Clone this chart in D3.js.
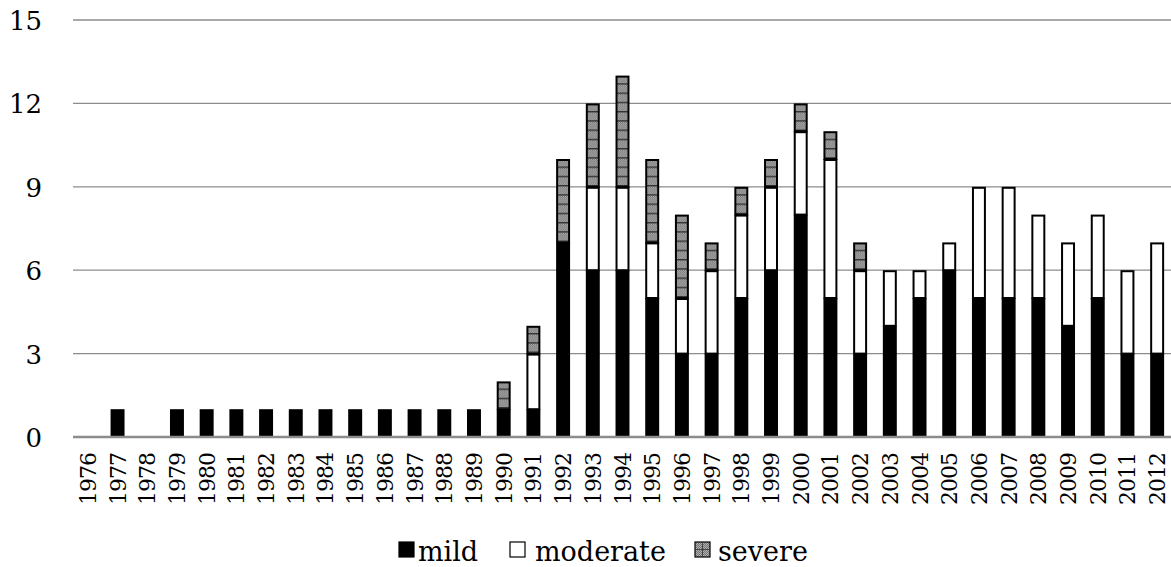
<!DOCTYPE html>
<html>
<head>
<meta charset="utf-8">
<script src="https://cdn.jsdelivr.net/npm/d3@7"></script>
<style>
  body { margin: 0; background: #fff; }
  text { font-family: "DejaVu Serif", "Liberation Serif", serif; }
</style>
</head>
<body>
<div id="viz"></div>
<script>
var width = 1171
var height = 567

// data
var years = ["1976","1977","1978","1979","1980","1981","1982","1983","1984","1985","1986","1987","1988","1989",
  "1990","1991","1992","1993","1994","1995","1996","1997","1998","1999","2000","2001","2002","2003","2004",
  "2005","2006","2007","2008","2009","2010","2011","2012"];
var mild =     [0,1,0,1,1,1,1,1,1,1,1,1,1,1, 1,1,7,6,6,5,3,3,5,6,8,5,3,4,5, 6,5,5,5,4,5,3,3];
var moderate = [0,0,0,0,0,0,0,0,0,0,0,0,0,0, 0,2,0,3,3,2,2,3,3,3,3,5,3,2,1, 1,4,4,3,3,3,3,4];
var severe =   [0,0,0,0,0,0,0,0,0,0,0,0,0,0, 1,1,3,3,4,3,3,1,1,1,1,1,1,0,0, 0,0,0,0,0,0,0,0];
var seriesNames = ["mild", "moderate", "severe"];
var yTicks = [0, 3, 6, 9, 12, 15];

var margin = {left: 73, right: 0, top: 20, bottom: 130};

var svg = d3.select("#viz")
  .append("svg")
  .attr("width", width)
  .attr("height", height);

// stipple pattern for severe
var defs = svg.append("defs");
var pat = defs.append("pattern")
  .attr("id", "sev")
  .attr("patternUnits", "userSpaceOnUse")
  .attr("width", 2)
  .attr("height", 2);
pat.append("rect").attr("width", 2).attr("height", 2).attr("fill", "#b4b4b4");
pat.append("rect").attr("width", 1).attr("height", 1).attr("fill", "#707070");
pat.append("rect").attr("x", 1).attr("y", 1).attr("width", 1).attr("height", 1).attr("fill", "#707070");
var pat2 = defs.append("pattern")
  .attr("id", "sevlines")
  .attr("patternUnits", "userSpaceOnUse")
  .attr("width", 20)
  .attr("height", 9.25);
pat2.append("rect").attr("width", 20).attr("height", 9.25).attr("fill", "url(#sev)");
pat2.append("rect").attr("width", 20).attr("height", 1.4).attr("fill", "#333");

var data = years.map(function(y, i) {
  return {year: y, mild: mild[i], moderate: moderate[i], severe: severe[i]};
});

var x = d3.scaleBand()
  .domain(years)
  .range([margin.left, width - margin.right + 1])
  .paddingInner(0.53)
  .paddingOuter(0.265);

var y = d3.scaleLinear()
  .domain([0, 15])
  .range([437, 20]);

// gridlines
svg.append("g")
  .selectAll("line")
  .data(yTicks.slice(1))
  .enter().append("line")
    .attr("x1", margin.left)
    .attr("x2", width)
    .attr("y1", d => y(d))
    .attr("y2", d => y(d))
    .style("stroke", "#8c8c8c")
    .style("stroke-width", 1.3);

// y labels
svg.append("g")
  .selectAll("text")
  .data(yTicks)
  .enter().append("text")
    .attr("x", 42)
    .attr("y", d => y(d) + 10)
    .attr("text-anchor", "end")
    .style("font-size", "26px")
    .text(d => d);

var stack = d3.stack().keys(seriesNames)(data);
var fills = {mild: "#000", moderate: "#fff", severe: "url(#sevlines)"};

svg.append("g")
  .selectAll("g")
  .data(stack)
  .enter().append("g")
    .attr("fill", d => fills[d.key])
  .selectAll("rect")
  .data(d => d.filter(p => p[1] > p[0]))
  .enter().append("rect")
    .attr("x", d => x(d.data.year) + 1)
    .attr("width", x.bandwidth() - 2)
    .attr("y", d => y(d[1]) + 1)
    .attr("height", d => y(d[0]) - y(d[1]) - 1)
    .style("stroke", "#000")
    .style("stroke-width", 2);

// baseline
svg.append("line")
  .attr("x1", margin.left)
  .attr("x2", width)
  .attr("y1", y(0))
  .attr("y2", y(0))
  .style("stroke", "#8c8c8c")
  .style("stroke-width", 2.5);

// x labels
svg.append("g")
  .selectAll("text")
  .data(years)
  .enter().append("text")
    .attr("transform", d => "translate(" + (x(d) + x.bandwidth() / 2 + 8) + ",453) rotate(-90)")
    .attr("text-anchor", "end")
    .style("font-size", "22px")
    .style("letter-spacing", "-1px")
    .text(d => d);

// legend
var legX = [399, 510, 695];
var legTextX = [418, 535, 718];
var legend = svg.append("g")
  .selectAll("g")
  .data(seriesNames)
  .enter().append("g")
    .attr("transform", (d, i) => "translate(" + legX[i] + ",542)");
legend.append("rect")
  .attr("x", 0)
  .attr("y", 0)
  .attr("width", 15)
  .attr("height", 15)
  .attr("fill", d => d == "severe" ? "url(#sev)" : fills[d])
  .style("stroke", "#000")
  .style("stroke-width", 1.2);
legend.filter(d => d == "severe").append("path")
  .attr("d", "M7.5,0V15M0,7.5H15")
  .style("stroke", "#444")
  .style("stroke-width", 1);
legend.append("text")
  .attr("x", (d, i) => legTextX[i] - legX[i])
  .attr("y", 19)
  .style("font-size", "27px")
  .text(d => d);
</script>
</body>
</html>
